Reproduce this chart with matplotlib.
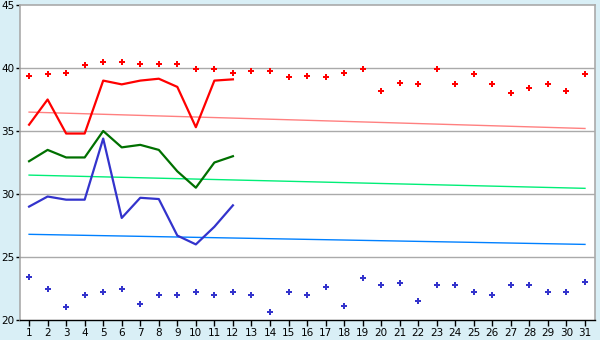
import matplotlib
matplotlib.use("Agg")
import matplotlib.pyplot as plt
import numpy as np

days = list(range(1, 32))
# record highs (markers)
rec_high = [39.4, 39.5, 39.6, 40.2, 40.5, 40.5, 40.3, 40.3, 40.3, 39.9, 39.9, 39.6,
            39.8, 39.8, 39.3, 39.4, 39.3, 39.6, 39.9, 38.2, 38.8, 38.7, 39.9, 38.7,
            39.5, 38.7, 38.0, 38.4, 38.7, 38.2, 39.5]
# record lows (markers)
rec_low = [23.4, 22.5, 21.0, 22.0, 22.2, 22.5, 21.3, 22.0, 22.0, 22.2, 22.0, 22.2,
           22.0, 20.6, 22.2, 22.0, 22.6, 21.1, 23.3, 22.8, 22.9, 21.5, 22.8, 22.8,
           22.2, 22.0, 22.8, 22.8, 22.2, 22.2, 23.0]
# current month (days 1-12)
cur_days = list(range(1, 13))
cur_max = [35.5, 37.5, 34.8, 34.8, 39.0, 38.7, 39.0, 39.15, 38.5, 35.3, 39.0, 39.1]
cur_mean = [32.6, 33.5, 32.9, 32.9, 35.0, 33.7, 33.9, 33.5, 31.8, 30.5, 32.5, 33.0]
cur_min = [29.0, 29.8, 29.55, 29.55, 34.4, 28.1, 29.7, 29.6, 26.7, 26.0, 27.4, 29.1]
# normals (trend lines): value on day 1 and day 31
norm_max = [36.5, 35.2]
norm_mean = [31.5, 30.45]
norm_min = [26.8, 26.0]

bg = "#d9eff6"
fig = plt.figure(figsize=(6, 3.4), dpi=100, facecolor=bg)
ax = fig.add_axes([20/600, 1-320/340, 575/600, 315/340])
ax.set_facecolor("white")

ax.set_xlim(0.51, 31.54)
ax.set_ylim(20, 45)

for y in [25, 30, 35, 40]:
    ax.axhline(y, color="#aaaaaa", lw=1, zorder=1)

ends = [1, 31]
ax.plot(ends, norm_max, color="#ff8080", lw=1, zorder=2)
ax.plot(ends, norm_mean, color="#00ee77", lw=1, zorder=2)
ax.plot(ends, norm_min, color="#0080ff", lw=1, zorder=2)

ax.plot(cur_days, cur_max, color="#ff0000", lw=1.6, zorder=3)
ax.plot(cur_days, cur_mean, color="#007000", lw=1.6, zorder=3)
ax.plot(cur_days, cur_min, color="#3333cc", lw=1.6, zorder=3)

ax.plot(days, rec_high, ls="none", marker="P", ms=4.5, color="#ff0000",
        markeredgewidth=0, zorder=4)
ax.plot(days, rec_low, ls="none", marker="P", ms=4.5, color="#3333cc",
        markeredgewidth=0, zorder=4)

ax.set_xticks(days)
ax.set_xticklabels([str(d) for d in days])
ax.set_yticks([20, 25, 30, 35, 40, 45])
ax.tick_params(axis="both", labelsize=7.5, colors="black", length=4, width=1, pad=2)
ax.tick_params(axis="y", length=3, pad=1)

for s in ["top", "right", "left"]:
    ax.spines[s].set_color("#aaaaaa")
    ax.spines[s].set_linewidth(1.2)
ax.spines["bottom"].set_color("black")
ax.spines["bottom"].set_linewidth(1)

fig.savefig("out.png", dpi=100, facecolor=bg)
